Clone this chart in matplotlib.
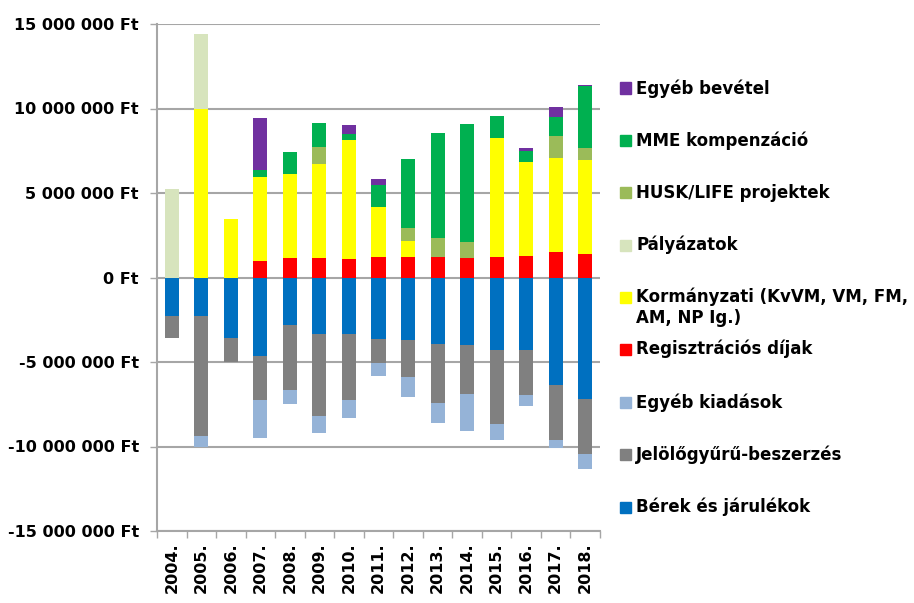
import matplotlib
matplotlib.use("Agg")
import matplotlib.pyplot as plt
import matplotlib.patches as patches
import numpy as np

plt.rcParams['font.family'] = ['DejaVu Sans']
plt.rcParams['font.weight'] = 'bold'

years = ["2004.", "2005.", "2006.", "2007.", "2008.", "2009.", "2010.", "2011.",
         "2012.", "2013.", "2014.", "2015.", "2016.", "2017.", "2018."]

# income (millió Ft)
reg_dijak = [0, 0, 0, 0.97, 1.14, 1.14, 1.09, 1.20, 1.24, 1.20, 1.14, 1.24, 1.30, 1.52, 1.42]
kormanyzati = [0, 9.99, 3.49, 4.99, 5.00, 5.55, 7.04, 2.96, 0.93, 0, 0, 7.03, 5.55, 5.57, 5.51]
palyazatok = [5.23, 4.43, 0, 0, 0, 0, 0, 0, 0, 0, 0, 0, 0, 0, 0]
husk_life = [0, 0, 0, 0, 0, 1.05, 0, 0, 0.77, 1.13, 0.95, 0, 0, 1.30, 0.75]
mme_komp = [0, 0, 0, 0.39, 1.28, 1.42, 0.34, 1.34, 4.09, 6.22, 7.01, 1.28, 0.63, 1.11, 3.63]
egyeb_bev = [0, 0, 0, 3.08, 0, 0, 0.57, 0.30, 0, 0, 0, 0, 0.18, 0.57, 0.06]

# expenses (millió Ft)
berek = [2.26, 2.26, 3.60, 4.65, 2.81, 3.33, 3.33, 3.64, 3.70, 3.94, 4.02, 4.29, 4.29, 6.36, 7.19]
gyuru = [1.34, 7.11, 1.42, 2.60, 3.86, 4.86, 3.92, 1.40, 2.19, 3.46, 2.87, 4.39, 2.66, 3.23, 3.23]
egyeb_kiad = [0, 0.67, 0, 2.22, 0.79, 1.00, 1.04, 0.79, 1.18, 1.18, 2.20, 0.91, 0.67, 0.51, 0.91]

pos_series = [
    ("Regisztrációs díjak", reg_dijak, "#FF0000"),
    ("Kormányzati (KvVM, VM, FM,\nAM, NP Ig.)", kormanyzati, "#FFFF00"),
    ("Pályázatok", palyazatok, "#D7E4BD"),
    ("HUSK/LIFE projektek", husk_life, "#9BBB59"),
    ("MME kompenzáció", mme_komp, "#00B050"),
    ("Egyéb bevétel", egyeb_bev, "#7030A0"),
]
neg_series = [
    ("Bérek és járulékok", berek, "#0070C0"),
    ("Jelölőgyűrű-beszerzés", gyuru, "#808080"),
    ("Egyéb kiadások", egyeb_kiad, "#95B3D7"),
]

W, H = 914, 603
fig = plt.figure(figsize=(W / 100, H / 100), dpi=100)
ax = fig.add_axes([157 / W, 1 - 531 / H, (600 - 157) / W, (531 - 24) / H])

x = np.arange(len(years))
bw = 0.475

bottom = np.zeros(len(years))
for name, vals, col in pos_series:
    v = np.array(vals) * 1e6
    ax.bar(x, v, bw, bottom=bottom, color=col, zorder=3)
    bottom += v

bottom = np.zeros(len(years))
for name, vals, col in neg_series:
    v = -np.array(vals) * 1e6
    ax.bar(x, v, bw, bottom=bottom, color=col, zorder=3)
    bottom += v

ax.set_xlim(-0.5, len(years) - 0.5)
ax.set_ylim(-15e6, 15e6)

yt = np.arange(-15e6, 15.1e6, 5e6)
ax.set_yticks(yt)
ax.set_yticklabels([("{:,.0f}".format(v).replace(",", " ") + " Ft") for v in yt], fontsize=11.5, fontweight='bold')
ax.yaxis.grid(True, color="#A6A6A6", linewidth=1.5, zorder=0)

ax.set_xticks(x)
ax.set_xticklabels(years, rotation=90, fontsize=11.5, fontweight='bold')
ax.set_xticks(np.arange(-0.5, len(years), 1), minor=True)
ax.tick_params(axis='x', which='major', length=0, pad=8)
ax.tick_params(axis='x', which='minor', length=5, color="#A6A6A6", width=1)
ax.tick_params(axis='y', length=5, color="#A6A6A6", width=1, pad=8)

for s in ["top", "right"]:
    ax.spines[s].set_visible(False)
ax.spines["left"].set_color("#A6A6A6")
ax.spines["bottom"].set_color("#A6A6A6")
ax.spines["left"].set_linewidth(1.5)
ax.spines["bottom"].set_linewidth(1.5)

# legend drawn by hand (Excel-like)
legend_items = [pos_series[5], pos_series[4], pos_series[3], pos_series[2], pos_series[1],
                pos_series[0], neg_series[2], neg_series[1], neg_series[0]]
legend_y = [88, 140.5, 192.5, 245, 297, 349, 402, 454, 507]
for (name, vals, col), yy in zip(legend_items, legend_y):
    fig.add_artist(patches.Rectangle((620 / W, 1 - (yy + 5.5) / H), 11 / W, 11 / H,
                                     transform=fig.transFigure, color=col))
    fig.text(636 / W, 1 - (yy - 9) / H, name, fontsize=12, fontweight='bold',
             va='top', ha='left', linespacing=1.2)

fig.savefig("out.png", dpi=100)
